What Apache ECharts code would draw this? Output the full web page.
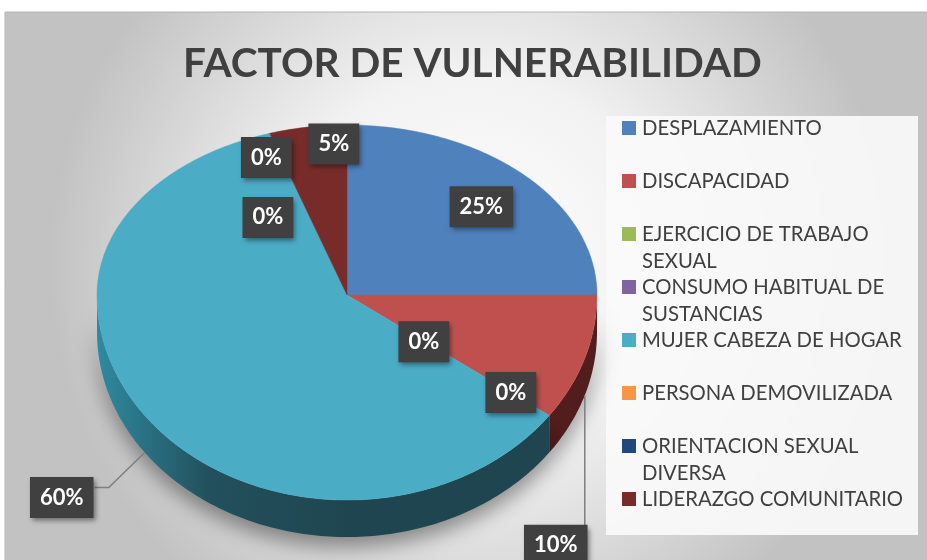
<!DOCTYPE html>
<html lang="es" style="height: 100%">
<head>
  <meta charset="utf-8">
</head>
<body style="height: 100%; margin: 0">
  <div id="container" style="width: 927px; height: 560px"></div>

  <script type="text/javascript" src="https://fastly.jsdelivr.net/npm/echarts@6/dist/echarts.min.js"></script>

  <script type="text/javascript">
    var categories = [
      'DESPLAZAMIENTO',
      'DISCAPACIDAD',
      'EJERCICIO DE TRABAJO SEXUAL',
      'CONSUMO HABITUAL DE SUSTANCIAS',
      'MUJER CABEZA DE HOGAR',
      'PERSONA DEMOVILIZADA',
      'ORIENTACION SEXUAL DIVERSA',
      'LIDERAZGO COMUNITARIO'
    ];
    var values = [25, 10, 0, 0, 60, 0, 0, 5];
    var palette = ['#4f81bd', '#c0504d', '#9bbb59', '#8064a2', '#4bacc6', '#f79646', '#1f497d', '#772c2a'];
    var sideColors = ['#2c4a6e', '#521d1d', '#5a6d33', '#4a3a5e', '#1f4650', '#8f5528', '#122a48', '#451918'];

    var total = values.reduce(function (a, b) { return a + b; }, 0);

    // 3D-ish pie geometry (perspective: back half flatter than front half)
    var CX = 347, CY = 295, RX = 250, RYT = 170, RYB = 205, DEPTH = 37;

    // label placement: radial fraction + nudge, or leader line + box offset
    var labelLayout = [
      { r: 0.76, dx: 0, dy: 3 },
      { leader: [[0, 0], [0, 130]], box: [-29, 150] },
      { r: 0.38, dx: 0, dy: 1 },
      { r: 0.81, dx: 0, dy: 0 },
      { leader: [[0, 0], [-36, 35], [-50, 35]], box: [-83, 45] },
      { r: 0.48, dx: -42, dy: 0 },
      { r: 0.85, dx: -15, dy: 0 },
      { r: 0.9, dx: 22, dy: 0 }
    ];

    function rim(deg, frac, dz) {
      var r = deg * Math.PI / 180;
      var s = Math.sin(r), c = -Math.cos(r);
      return [CX + RX * frac * s, CY + (c < 0 ? RYT : RYB) * frac * c + (dz || 0)];
    }

    function renderSlice(params, api) {
      var i = params.dataIndex;
      var v = api.value(0);
      var start = 0;
      for (var k = 0; k < i; k++) start += values[k];
      var a0 = start / total * 360;
      var a1 = (start + v) / total * 360;
      var mid = (a0 + a1) / 2;
      var children = [];
      var a;

      if (v > 0) {
        var top = [[CX, CY]];
        for (a = a0; a < a1; a += 1) top.push(rim(a, 1));
        top.push(rim(a1, 1));
        children.push({
          type: 'polygon',
          shape: { points: top },
          style: { fill: palette[i], stroke: palette[i], lineWidth: 0.5 },
          z2: 10
        });

        var b0 = Math.max(a0, 90), b1 = Math.min(a1, 270);
        if (b1 > b0) {
          var side = [];
          for (a = b0; a < b1; a += 1) side.push(rim(a, 1));
          side.push(rim(b1, 1));
          for (a = b1; a > b0; a -= 1) side.push(rim(a, 1, DEPTH));
          side.push(rim(b0, 1, DEPTH));
          children.push({
            type: 'polygon',
            shape: { points: side },
            style: {
              fill: i === 4 ? {
                type: 'linear', x: CX - RX, y: 0, x2: CX, y2: 0, global: true,
                colorStops: [{ offset: 0, color: '#2f8aa0' }, { offset: 0.45, color: '#22505c' }, { offset: 1, color: sideColors[i] }]
              } : sideColors[i],
              shadowBlur: 20,
              shadowColor: 'rgba(0,0,0,0.4)',
              shadowOffsetY: 10
            },
            z2: 5
          });
        }
      }

      var lay = labelLayout[i];
      var pos;
      if (lay.leader) {
        var p0 = rim(mid, 1, DEPTH);
        children.push({
          type: 'polyline',
          shape: { points: lay.leader.map(function (d) { return [p0[0] + d[0], p0[1] + d[1]]; }) },
          style: { stroke: '#7f7f7f', lineWidth: 1.5, fill: null },
          z2: 50
        });
        pos = [p0[0] + lay.box[0], p0[1] + lay.box[1]];
      } else {
        var p = rim(mid, lay.r);
        pos = [p[0] + lay.dx, p[1] + lay.dy];
      }
      children.push({
        type: 'text',
        x: pos[0],
        y: pos[1],
        style: {
          text: Math.round(v / total * 100) + '%',
          fill: '#ffffff',
          font: 'bold 22px Lato',
          align: 'center',
          verticalAlign: 'middle',
          backgroundColor: '#404040',
          padding: [10, 10, 9, 10],
          shadowBlur: 5,
          shadowColor: 'rgba(0,0,0,0.45)',
          shadowOffsetX: 2,
          shadowOffsetY: 3
        },
        z2: 100
      });

      return { type: 'group', children: children };
    }

    // legend drawn as graphic so wrapped names keep an even 53px pitch
    var legendItems = categories.map(function (name, i) {
      return {
        type: 'group',
        x: 622,
        y: 121 + i * 53,
        silent: true,
        children: [
          { type: 'rect', shape: { x: 0, y: 0, width: 14, height: 14 }, style: { fill: palette[i] } },
          {
            type: 'text',
            x: 20,
            y: 7 - 13.75,
            style: {
              text: name,
              font: '20.3px Lato',
              fill: '#404040',
              width: 280,
              overflow: 'break',
              lineHeight: 27.5,
              verticalAlign: 'top'
            }
          }
        ]
      };
    });

    var dom = document.getElementById('container');
    var myChart = echarts.init(dom, null, { renderer: 'canvas' });
    var option;

    option = {
      animation: false,
      backgroundColor: '#ffffff',
      color: palette,
      title: {
        text: 'FACTOR DE VULNERABILIDAD',
        left: 183,
        top: 43,
        padding: 0,
        textStyle: {
          fontFamily: 'Lato',
          fontWeight: 'bold',
          fontSize: 40.5,
          color: '#404040'
        }
      },
      graphic: [
        {
          type: 'rect',
          z: -10,
          shape: { x: 5, y: 12, width: 930, height: 560 },
          style: {
            fill: {
              type: 'radial', x: 0.5, y: 0.45, r: 0.75,
              colorStops: [{ offset: 0, color: '#ffffff' }, { offset: 0.45, color: '#f2f2f2' }, { offset: 1, color: '#c2c2c2' }]
            },
            stroke: '#b4b4b4',
            lineWidth: 1
          },
          silent: true
        },
        {
          type: 'rect',
          z: -9,
          shape: { x: 606, y: 116, width: 312, height: 419 },
          style: { fill: 'rgba(250,250,250,0.92)' },
          silent: true
        }
      ].concat(legendItems),
      series: [
        {
          type: 'custom',
          name: 'FACTOR DE VULNERABILIDAD',
          coordinateSystem: 'none',
          renderItem: renderSlice,
          data: values
        }
      ]
    };

    if (option && typeof option === 'object') {
      myChart.setOption(option);
    }

    window.addEventListener('resize', myChart.resize);
  </script>
</body>
</html>
